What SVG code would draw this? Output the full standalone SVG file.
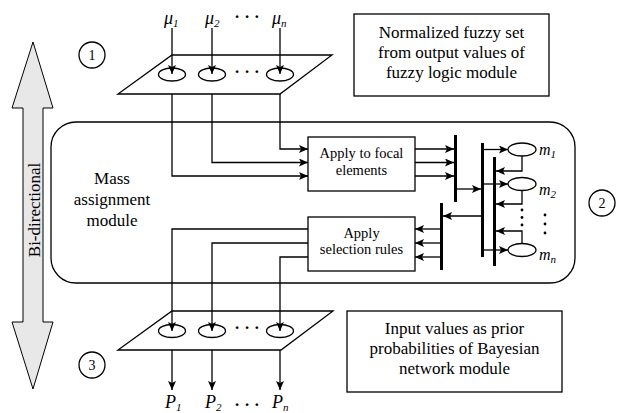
<svg xmlns="http://www.w3.org/2000/svg" width="620" height="413" viewBox="0 0 620 413">
<style>
text{font-family:'Liberation Serif','Times New Roman',serif;fill:#000}
.c{fill:none;stroke:#000;stroke-width:1.3}
.a{marker-end:url(#ah)}
.bar{fill:none;stroke:#000;stroke-width:3}
.sh{fill:#fff;stroke:#000;stroke-width:1.3}
.lbl{font-size:17px;text-anchor:middle}
.box{font-size:14.5px;text-anchor:middle}
.it{font-style:italic;font-size:18px}
.sub{font-size:11px}
.dots{font-size:17px;font-weight:bold;text-anchor:middle}
.num{font-size:14px;text-anchor:middle}
.dot{fill:#000}
</style>
<defs>
<marker id="ah" markerUnits="userSpaceOnUse" markerWidth="9" markerHeight="8" refX="9" refY="4" orient="auto">
<path d="M0,0 L9,4 L0,8 L2,4 z" fill="#000"/>
</marker>
</defs>
<rect width="620" height="413" fill="#fff"/>

<g id="bidirectional">
<polygon points="33,42 53,108 43,108 43,322 53,322 33,389 12,322 23,322 23,108 12,108" fill="#e8e8e8" stroke="#000" stroke-width="1"/>
<text transform="translate(39.5,210) rotate(-90)" class="lbl">Bi-directional</text>
</g>

<g id="mass-module">
<rect x="51" y="122" width="524" height="161" rx="25" ry="25" class="sh"/>
<text class="lbl" x="112" y="184">Mass</text>
<text class="lbl" x="112" y="205">assignment</text>
<text class="lbl" x="112" y="226">module</text>
</g>

<g id="marker1"><circle cx="92" cy="55" r="13" class="sh"/><text class="num" x="92" y="60">1</text></g>
<g id="marker2"><circle cx="602" cy="203" r="13" class="sh"/><text class="num" x="602" y="208">2</text></g>
<g id="marker3"><circle cx="92" cy="365" r="13" class="sh"/><text class="num" x="92" y="370">3</text></g>

<g id="note-top">
<rect x="354" y="14" width="195" height="82" class="sh"/>
<text class="lbl" x="451.5" y="38">Normalized fuzzy set</text>
<text class="lbl" x="451.5" y="58">from output values of</text>
<text class="lbl" x="451.5" y="78">fuzzy logic module</text>
</g>

<g id="note-bottom">
<rect x="347" y="311" width="215" height="81" class="sh"/>
<text class="lbl" x="454.5" y="334">Input values as prior</text>
<text class="lbl" x="454.5" y="354">probabilities of Bayesian</text>
<text class="lbl" x="454.5" y="374">network module</text>
</g>

<g id="fuzzy-set-top">
<polygon points="172,55 332,55 280,94 118,94" class="sh"/>
<ellipse cx="172" cy="74.5" rx="13.5" ry="6.5" class="sh"/>
<ellipse cx="212" cy="74.5" rx="13.5" ry="6.5" class="sh"/>
<ellipse cx="280" cy="74.5" rx="13.5" ry="6.5" class="sh"/>
<text class="dots" x="247" y="77">· · ·</text>
</g>

<g id="fuzzy-set-bottom">
<polygon points="172,311 333,311 281,350 118,350" class="sh"/>
<ellipse cx="172" cy="331" rx="13.5" ry="6.5" class="sh"/>
<ellipse cx="212" cy="331" rx="13.5" ry="6.5" class="sh"/>
<ellipse cx="280" cy="331" rx="13.5" ry="6.5" class="sh"/>
<text class="dots" x="247" y="333">· · ·</text>
</g>

<g id="focal-box">
<rect x="308" y="137" width="107" height="54" class="sh"/>
<text class="box" x="361.5" y="157.5">Apply to focal</text>
<text class="box" x="361.5" y="175">elements</text>
</g>

<g id="selection-box">
<rect x="308" y="217" width="107" height="54" class="sh"/>
<text class="box" x="361.5" y="238">Apply</text>
<text class="box" x="361.5" y="254">selection rules</text>
</g>

<g id="mass-ellipses">
<ellipse cx="522" cy="149.5" rx="14" ry="6.5" class="sh"/>
<ellipse cx="522" cy="184" rx="14" ry="6.5" class="sh"/>
<ellipse cx="522" cy="250" rx="14" ry="6.5" class="sh"/>
</g>

<g id="labels">
<text class="it" x="164" y="24">μ<tspan class="sub" dy="3">1</tspan></text>
<text class="it" x="205" y="24">μ<tspan class="sub" dy="3">2</tspan></text>
<text class="dots" x="247" y="22">· · ·</text>
<text class="it" x="272" y="24">μ<tspan class="sub" dy="3">n</tspan></text>
<text class="it" x="165" y="408">P<tspan class="sub" dy="3">1</tspan></text>
<text class="it" x="205" y="408">P<tspan class="sub" dy="3">2</tspan></text>
<text class="dots" x="247" y="410">· · ·</text>
<text class="it" x="272" y="408">P<tspan class="sub" dy="3">n</tspan></text>
<text class="it" x="539" y="155" style="font-size:16px">m<tspan class="sub" dy="3">1</tspan></text>
<text class="it" x="539" y="195" style="font-size:16px">m<tspan class="sub" dy="3">2</tspan></text>
<text class="it" x="539" y="260" style="font-size:16px">m<tspan class="sub" dy="3">n</tspan></text>
<circle class="dot" cx="545" cy="215" r="1.4"/>
<circle class="dot" cx="545" cy="224" r="1.4"/>
<circle class="dot" cx="545" cy="233" r="1.4"/>
<circle class="dot" cx="522" cy="210" r="1.4"/>
<circle class="dot" cx="522" cy="217.5" r="1.4"/>
<circle class="dot" cx="522" cy="225" r="1.4"/>
</g>

<g id="connectors">
<path class="c a" d="M172,28 V74"/>
<path class="c a" d="M212,28 V74"/>
<path class="c a" d="M280,28 V74"/>
<path class="c a" d="M280,94 V149 H308"/>
<path class="c a" d="M212,94 V162.5 H308"/>
<path class="c a" d="M172,94 V176 H308"/>
<path class="c a" d="M415,149 H454"/>
<path class="c a" d="M415,162.5 H454"/>
<path class="c a" d="M415,176 H454"/>
<path class="bar" d="M455.5,135 V202"/>
<path class="c a" d="M455.5,189 H481"/>
<path class="bar" d="M482.5,143 V257"/>
<path class="c a" d="M482.5,149.5 H508"/>
<path class="c a" d="M482.5,184 H508"/>
<path class="c a" d="M482.5,250 H508"/>
<path class="bar" d="M494.5,157 V266"/>
<path class="c a" d="M522,156 V171 H496"/>
<path class="c a" d="M522,190.5 V204 H496"/>
<path class="c a" d="M522,243.5 V231 H496"/>
<path class="c a" d="M482.5,216 H443"/>
<path class="bar" d="M441.5,203 V270"/>
<path class="c a" d="M441.5,229 H415"/>
<path class="c a" d="M441.5,243 H415"/>
<path class="c a" d="M441.5,257 H415"/>
<path class="c a" d="M308,229 H172 V331"/>
<path class="c a" d="M308,243 H212 V331"/>
<path class="c a" d="M308,257 H280 V331"/>
<path class="c a" d="M172,350 V390"/>
<path class="c a" d="M212,350 V390"/>
<path class="c a" d="M280,350 V390"/>
</g>
</svg>
